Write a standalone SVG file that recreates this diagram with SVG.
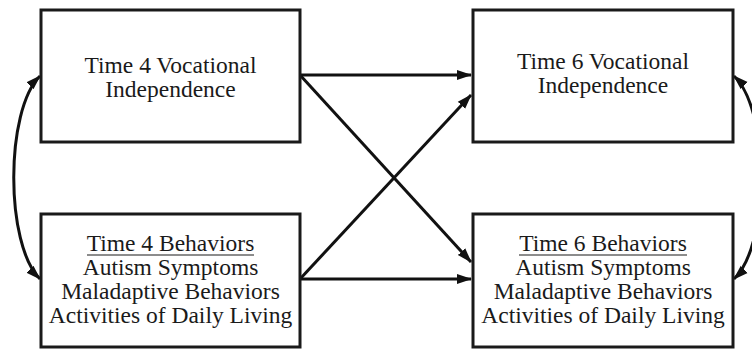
<svg xmlns="http://www.w3.org/2000/svg" width="752" height="350" viewBox="0 0 752 350">
<style>
.box{fill:#fff;stroke:#1a1a1a;stroke-width:3}
.t{font-family:"Liberation Serif","Times New Roman",serif;font-size:23.5px;fill:#1a1a1a;text-anchor:middle}
.c{fill:none;stroke:#111;stroke-width:3}
</style>
<defs>
<marker id="ah" markerUnits="userSpaceOnUse" markerWidth="15" markerHeight="12" refX="14" refY="5" orient="auto-start-reverse" viewBox="0 0 15 10">
<path d="M0,0 L15,5 L0,10 Z" fill="#111"/>
</marker>
</defs>
<rect width="752" height="350" fill="#fff"/>
<g id="connectors">
<path class="c" d="M300,75 L471,75" marker-end="url(#ah)"/>
<path class="c" d="M300,75 L471,262" marker-end="url(#ah)"/>
<path class="c" d="M300,279 L471,95" marker-end="url(#ah)"/>
<path class="c" d="M300,279 L471,279" marker-end="url(#ah)"/>
<path class="c" d="M40,76 C5,110 5,245 40,279" marker-start="url(#ah)" marker-end="url(#ah)"/>
<path class="c" d="M734,76 C770,110 770,245 734,279" marker-start="url(#ah)" marker-end="url(#ah)"/>
</g>
<g id="t4voc">
<rect class="box" x="41" y="10" width="259" height="132"/>
<text class="t" x="170.5" y="73">Time 4 Vocational</text>
<text class="t" x="170.5" y="97">Independence</text>
</g>
<g id="t4beh">
<rect class="box" x="41" y="214" width="259" height="133"/>
<text class="t" x="170.5" y="251">Time 4 Behaviors</text>
<line x1="87" y1="255" x2="254" y2="255" stroke="#1a1a1a" stroke-width="1.2"/>
<text class="t" x="170.5" y="275">Autism Symptoms</text>
<text class="t" x="170.5" y="299">Maladaptive Behaviors</text>
<text class="t" x="170.5" y="323">Activities of Daily Living</text>
</g>
<g id="t6voc">
<rect class="box" x="473" y="10" width="260" height="132"/>
<text class="t" x="603" y="69">Time 6 Vocational</text>
<text class="t" x="603" y="93">Independence</text>
</g>
<g id="t6beh">
<rect class="box" x="473" y="214" width="260" height="133"/>
<text class="t" x="603" y="251">Time 6 Behaviors</text>
<line x1="519" y1="255" x2="687" y2="255" stroke="#1a1a1a" stroke-width="1.2"/>
<text class="t" x="603" y="275">Autism Symptoms</text>
<text class="t" x="603" y="299">Maladaptive Behaviors</text>
<text class="t" x="603" y="323">Activities of Daily Living</text>
</g>
</svg>
